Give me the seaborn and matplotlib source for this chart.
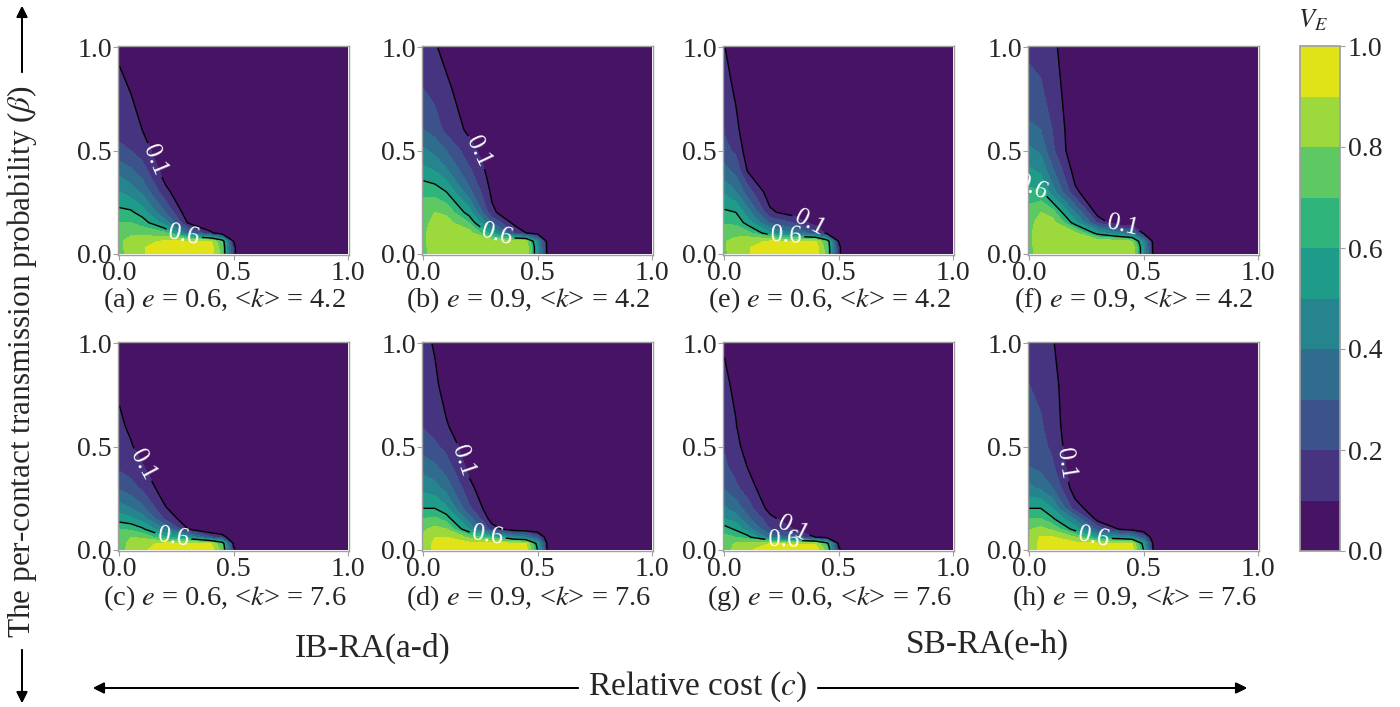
import numpy as np
import matplotlib
matplotlib.use("Agg")
import matplotlib.pyplot as plt
import seaborn as sns

sns.set_theme(style="white")
plt.rcParams["font.family"] = ["Liberation Serif", "DejaVu Serif"]
plt.rcParams["mathtext.fontset"] = "stix"

# Grid of relative cost (c) and per-contact transmission probability (beta)
c_values = [0.0, 0.05, 0.1, 0.2, 0.3, 0.4, 0.45, 0.5, 0.55, 1.0]
beta_values = [0.0, 0.03, 0.06, 0.1, 0.15, 0.2, 0.3, 0.4, 0.5, 0.6, 0.8, 1.0]

# V_E values, one row per beta value, one column per c value
ve_a = [
    [0.76, 0.85, 0.89, 0.96, 0.96, 0.96, 0.75, 0.12, 0, 0],
    [0.77, 0.85, 0.89, 0.95, 0.95, 0.95, 0.74, 0.12, 0, 0],
    [0.78, 0.84, 0.88, 0.91, 0.91, 0.91, 0.70, 0.10, 0, 0],
    [0.75, 0.78, 0.76, 0.72, 0.35, 0.12, 0.02, 0, 0, 0],
    [0.70, 0.70, 0.66, 0.45, 0.09, 0, 0, 0, 0, 0],
    [0.63, 0.62, 0.55, 0.30, 0.03, 0, 0, 0, 0, 0],
    [0.50, 0.45, 0.38, 0.13, 0, 0, 0, 0, 0, 0],
    [0.37, 0.32, 0.25, 0.05, 0, 0, 0, 0, 0, 0],
    [0.22, 0.20, 0.15, 0.02, 0, 0, 0, 0, 0, 0],
    [0.17, 0.14, 0.10, 0, 0, 0, 0, 0, 0, 0],
    [0.125, 0.095, 0.04, 0, 0, 0, 0, 0, 0, 0],
    [0.08, 0.05, 0.02, 0, 0, 0, 0, 0, 0, 0],
]
ve_b = [
    [0.77, 0.86, 0.87, 0.88, 0.88, 0.88, 0.87, 0.50, 0, 0],
    [0.77, 0.86, 0.87, 0.88, 0.88, 0.88, 0.87, 0.50, 0, 0],
    [0.78, 0.86, 0.87, 0.87, 0.87, 0.86, 0.84, 0.45, 0, 0],
    [0.78, 0.85, 0.86, 0.85, 0.55, 0.20, 0.10, 0.05, 0, 0],
    [0.77, 0.83, 0.84, 0.70, 0.30, 0.06, 0.02, 0, 0, 0],
    [0.75, 0.80, 0.78, 0.55, 0.12, 0.02, 0, 0, 0, 0],
    [0.68, 0.66, 0.60, 0.33, 0.08, 0, 0, 0, 0, 0],
    [0.53, 0.50, 0.42, 0.22, 0.05, 0, 0, 0, 0, 0],
    [0.42, 0.37, 0.30, 0.14, 0.03, 0, 0, 0, 0, 0],
    [0.30, 0.26, 0.17, 0.08, 0.01, 0, 0, 0, 0, 0],
    [0.20, 0.16, 0.12, 0.04, 0, 0, 0, 0, 0, 0],
    [0.16, 0.11, 0.07, 0.02, 0, 0, 0, 0, 0, 0],
]
ve_c = [
    [0.76, 0.83, 0.88, 0.96, 0.96, 0.96, 0.75, 0.12, 0, 0],
    [0.77, 0.82, 0.87, 0.92, 0.92, 0.91, 0.70, 0.08, 0, 0],
    [0.78, 0.80, 0.78, 0.62, 0.50, 0.22, 0.15, 0.02, 0, 0],
    [0.70, 0.68, 0.62, 0.40, 0.10, 0, 0, 0, 0, 0],
    [0.55, 0.52, 0.45, 0.18, 0.03, 0, 0, 0, 0, 0],
    [0.45, 0.40, 0.33, 0.11, 0.01, 0, 0, 0, 0, 0],
    [0.28, 0.24, 0.18, 0.04, 0, 0, 0, 0, 0, 0],
    [0.18, 0.15, 0.11, 0.01, 0, 0, 0, 0, 0, 0],
    [0.14, 0.11, 0.06, 0, 0, 0, 0, 0, 0, 0],
    [0.12, 0.08, 0.04, 0, 0, 0, 0, 0, 0, 0],
    [0.08, 0.05, 0.02, 0, 0, 0, 0, 0, 0, 0],
    [0.05, 0.03, 0.01, 0, 0, 0, 0, 0, 0, 0],
]
ve_d = [
    [0.85, 0.92, 0.94, 0.95, 0.95, 0.95, 0.94, 0.60, 0, 0],
    [0.84, 0.92, 0.93, 0.93, 0.93, 0.92, 0.90, 0.55, 0, 0],
    [0.82, 0.90, 0.90, 0.78, 0.65, 0.45, 0.40, 0.25, 0, 0],
    [0.78, 0.83, 0.80, 0.50, 0.15, 0.02, 0.01, 0, 0, 0],
    [0.70, 0.72, 0.66, 0.35, 0.05, 0, 0, 0, 0, 0],
    [0.60, 0.60, 0.52, 0.22, 0.02, 0, 0, 0, 0, 0],
    [0.47, 0.44, 0.36, 0.13, 0, 0, 0, 0, 0, 0],
    [0.36, 0.32, 0.25, 0.07, 0, 0, 0, 0, 0, 0],
    [0.25, 0.22, 0.17, 0.04, 0, 0, 0, 0, 0, 0],
    [0.19, 0.16, 0.11, 0.02, 0, 0, 0, 0, 0, 0],
    [0.15, 0.12, 0.06, 0, 0, 0, 0, 0, 0, 0],
    [0.13, 0.09, 0.04, 0, 0, 0, 0, 0, 0, 0],
]
ve_e = [
    [0.78, 0.85, 0.89, 0.96, 0.96, 0.96, 0.75, 0.12, 0, 0],
    [0.79, 0.85, 0.89, 0.95, 0.95, 0.95, 0.74, 0.12, 0, 0],
    [0.79, 0.84, 0.87, 0.91, 0.91, 0.91, 0.70, 0.10, 0, 0],
    [0.75, 0.76, 0.74, 0.52, 0.40, 0.25, 0.05, 0, 0, 0],
    [0.69, 0.68, 0.56, 0.28, 0.20, 0.04, 0, 0, 0, 0],
    [0.62, 0.60, 0.45, 0.12, 0.05, 0, 0, 0, 0, 0],
    [0.48, 0.40, 0.25, 0.04, 0.01, 0, 0, 0, 0, 0],
    [0.34, 0.27, 0.10, 0.01, 0, 0, 0, 0, 0, 0],
    [0.23, 0.18, 0.05, 0, 0, 0, 0, 0, 0, 0],
    [0.19, 0.13, 0.03, 0, 0, 0, 0, 0, 0, 0],
    [0.15, 0.08, 0.01, 0, 0, 0, 0, 0, 0, 0],
    [0.105, 0.03, 0, 0, 0, 0, 0, 0, 0, 0],
]
ve_f = [
    [0.77, 0.86, 0.87, 0.88, 0.88, 0.88, 0.87, 0.50, 0, 0],
    [0.77, 0.86, 0.87, 0.88, 0.88, 0.88, 0.87, 0.50, 0, 0],
    [0.78, 0.86, 0.87, 0.87, 0.86, 0.85, 0.80, 0.45, 0, 0],
    [0.78, 0.86, 0.86, 0.82, 0.55, 0.40, 0.35, 0.08, 0, 0],
    [0.77, 0.84, 0.85, 0.55, 0.18, 0, 0, 0, 0, 0],
    [0.75, 0.80, 0.75, 0.40, 0.05, 0, 0, 0, 0, 0],
    [0.62, 0.62, 0.45, 0.12, 0.01, 0, 0, 0, 0, 0],
    [0.52, 0.48, 0.32, 0.06, 0, 0, 0, 0, 0, 0],
    [0.42, 0.38, 0.22, 0.02, 0, 0, 0, 0, 0, 0],
    [0.32, 0.30, 0.20, 0.02, 0, 0, 0, 0, 0, 0],
    [0.23, 0.21, 0.16, 0.01, 0, 0, 0, 0, 0, 0],
    [0.18, 0.17, 0.13, 0, 0, 0, 0, 0, 0, 0],
]
ve_g = [
    [0.76, 0.83, 0.88, 0.96, 0.96, 0.96, 0.75, 0.12, 0, 0],
    [0.76, 0.81, 0.84, 0.90, 0.89, 0.88, 0.65, 0.08, 0, 0],
    [0.73, 0.70, 0.65, 0.35, 0.30, 0.10, 0.05, 0, 0, 0],
    [0.65, 0.58, 0.45, 0.20, 0.10, 0.01, 0, 0, 0, 0],
    [0.50, 0.45, 0.33, 0.13, 0.03, 0, 0, 0, 0, 0],
    [0.41, 0.36, 0.25, 0.06, 0, 0, 0, 0, 0, 0],
    [0.29, 0.22, 0.15, 0.02, 0, 0, 0, 0, 0, 0],
    [0.22, 0.16, 0.10, 0, 0, 0, 0, 0, 0, 0],
    [0.19, 0.13, 0.06, 0, 0, 0, 0, 0, 0, 0],
    [0.15, 0.105, 0.04, 0, 0, 0, 0, 0, 0, 0],
    [0.12, 0.08, 0.01, 0, 0, 0, 0, 0, 0, 0],
    [0.09, 0.03, 0, 0, 0, 0, 0, 0, 0, 0],
]
ve_h = [
    [0.85, 0.92, 0.94, 0.95, 0.95, 0.95, 0.94, 0.60, 0, 0],
    [0.85, 0.92, 0.94, 0.93, 0.92, 0.92, 0.90, 0.55, 0, 0],
    [0.83, 0.91, 0.91, 0.80, 0.55, 0.50, 0.45, 0.25, 0, 0],
    [0.79, 0.83, 0.78, 0.55, 0.25, 0.08, 0.05, 0.02, 0, 0],
    [0.70, 0.70, 0.62, 0.38, 0.05, 0, 0, 0, 0, 0],
    [0.60, 0.60, 0.50, 0.15, 0.02, 0, 0, 0, 0, 0],
    [0.42, 0.38, 0.30, 0.04, 0, 0, 0, 0, 0, 0],
    [0.30, 0.27, 0.22, 0.02, 0, 0, 0, 0, 0, 0],
    [0.25, 0.23, 0.18, 0.01, 0, 0, 0, 0, 0, 0],
    [0.23, 0.21, 0.16, 0, 0, 0, 0, 0, 0, 0],
    [0.20, 0.18, 0.14, 0, 0, 0, 0, 0, 0, 0],
    [0.17, 0.15, 0.11, 0, 0, 0, 0, 0, 0, 0],
]

panel_letters = ["a", "b", "e", "f", "c", "d", "g", "h"]
panel_e = {"a": "0.6", "b": "0.9", "c": "0.6", "d": "0.9",
           "e": "0.6", "f": "0.9", "g": "0.6", "h": "0.9"}
panel_k = {"a": "4.2", "b": "4.2", "c": "7.6", "d": "7.6",
           "e": "4.2", "f": "4.2", "g": "7.6", "h": "7.6"}
panel_ve = {"a": ve_a, "b": ve_b, "c": ve_c, "d": ve_d,
            "e": ve_e, "f": ve_f, "g": ve_g, "h": ve_h}

fill_levels = np.linspace(0.0, 1.0, 11)
line_levels = [0.1, 0.6]
colorbar_ticks = [0.0, 0.2, 0.4, 0.6, 0.8, 1.0]
axis_ticks = [0.0, 0.5, 1.0]

# where the inline contour labels sit, in (c, beta)
label_spots = {
    "a": [(0.17, 0.46), (0.28, 0.08)],
    "b": [(0.23, 0.49), (0.32, 0.09)],
    "c": [(0.10, 0.41), (0.235, 0.06)],
    "d": [(0.17, 0.43), (0.28, 0.055)],
    "e": [(0.37, 0.14), (0.27, 0.09)],
    "f": [(0.012, 0.32), (0.41, 0.14)],
    "g": [(0.29, 0.09), (0.26, 0.05)],
    "h": [(0.18, 0.42), (0.28, 0.055)],
}

W, H = 1400, 707
fig = plt.figure(figsize=(W / 100, H / 100), dpi=100)
cmap = sns.color_palette("viridis", as_cmap=True)


def add_axes_px(left, top, width, height):
    return fig.add_axes([left / W, 1 - (top + height) / H, width / W, height / H])


col_left = [118, 422, 723, 1028]
row_top = [46, 342]
caption_y = [-0.215, -0.225]
ax_w, ax_h = 231, 209
edge = "#a0a0a0"

mappable = None
for i, letter in enumerate(panel_letters):
    r, cidx = divmod(i, 4)
    ax = add_axes_px(col_left[cidx], row_top[r], ax_w, ax_h)
    z = np.array(panel_ve[letter])
    mappable = ax.contourf(c_values, beta_values, z, levels=fill_levels, cmap=cmap)
    lines = ax.contour(c_values, beta_values, z, levels=line_levels,
                       colors="black", linewidths=1.0)
    texts = ax.clabel(lines, manual=label_spots[letter], fmt="%.1f",
                      colors="white", fontsize=18, inline=True, inline_spacing=3)
    for t in texts:
        t.set_clip_on(True)
    ax.set_xlim(-0.006, 1.006)
    ax.set_ylim(-0.007, 1.007)
    ax.set_xticks(axis_ticks)
    ax.set_yticks(axis_ticks)
    ax.set_xticklabels([f"{v:.1f}" for v in axis_ticks])
    ax.set_yticklabels([f"{v:.1f}" for v in axis_ticks])
    ax.tick_params(labelsize=20, length=3.5, width=0.8, color=edge,
                   direction="out", pad=1.0, bottom=True, left=True)
    for s in ax.spines.values():
        s.set_edgecolor(edge)
        s.set_linewidth(1.0)
    ax.text(0.46, caption_y[r],
            f"({letter}) $e$ = {panel_e[letter]}, <$k$> = {panel_k[letter]}",
            transform=ax.transAxes, ha="center", va="center", fontsize=20.5)

# colour bar
cax = add_axes_px(1300, 46, 40, 505)
cb = fig.colorbar(mappable, cax=cax, ticks=colorbar_ticks)
cb.ax.set_yticklabels([f"{v:.1f}" for v in colorbar_ticks])
cb.outline.set_edgecolor(edge)
cb.ax.tick_params(labelsize=20, length=3.5, width=0.8, color=edge, right=True, pad=2)
fig.text(1313 / W, 1 - 20 / H, "$V_E$", ha="center", va="center", fontsize=19)

# group captions
fig.text(373 / W, 1 - 648 / H, "IB-RA(a-d)", ha="center", va="center", fontsize=24)
fig.text(987 / W, 1 - 645 / H, "SB-RA(e-h)", ha="center", va="center", fontsize=24)

# shared axis titles with arrows
fig.text(698 / W, 1 - 687 / H, "Relative cost ($c$)", ha="center", va="center", fontsize=24)
arrow = dict(arrowstyle="-|>", color="black", lw=1.4, mutation_scale=16, shrinkA=0, shrinkB=0)
fig.add_artist(plt.annotate("", xy=(93, H - 688), xytext=(578, H - 688),
                            xycoords="figure pixels", textcoords="figure pixels",
                            arrowprops=arrow))
fig.add_artist(plt.annotate("", xy=(1247, H - 688), xytext=(818, H - 688),
                            xycoords="figure pixels", textcoords="figure pixels",
                            arrowprops=arrow))

fig.text(22 / W, 1 - 362 / H, r"The per-contact transmission probability ($\beta$)",
         rotation=90, ha="center", va="center", fontsize=22.5)
fig.add_artist(plt.annotate("", xy=(22, H - 6), xytext=(22, H - 72),
                            xycoords="figure pixels", textcoords="figure pixels",
                            arrowprops=arrow))
fig.add_artist(plt.annotate("", xy=(22, H - 703), xytext=(22, H - 650),
                            xycoords="figure pixels", textcoords="figure pixels",
                            arrowprops=arrow))

fig.savefig("out.png", dpi=100)
